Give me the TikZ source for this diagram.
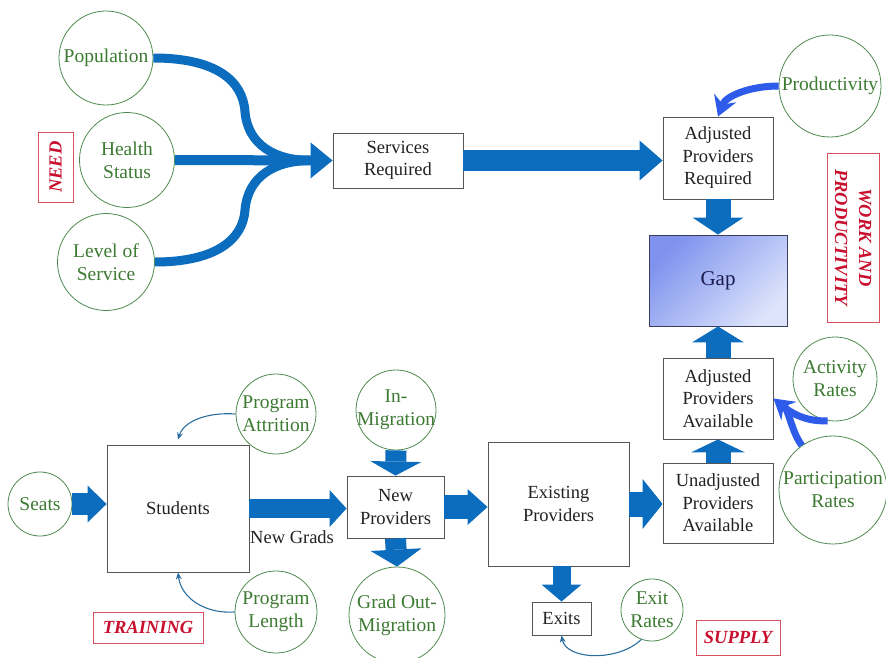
\documentclass[tikz,border=0pt]{standalone}
\usepackage{fontspec}
\setmainfont{Liberation Serif}
\usetikzlibrary{arrows.meta,shapes.geometric}
\definecolor{arrblue}{HTML}{0C6CBE}
\definecolor{lightarr}{HTML}{2F5BEA}
\definecolor{thinblue}{HTML}{2B6E9E}
\definecolor{circline}{HTML}{4E8A4E}
\definecolor{circtext}{HTML}{3C7A32}
\definecolor{boxgray}{HTML}{555555}
\definecolor{boxtext}{HTML}{222222}
\definecolor{labred}{HTML}{C8102E}
\definecolor{labline}{HTML}{D9505F}
\definecolor{gapA}{HTML}{7F93EE}
\definecolor{gapB}{HTML}{DCE3FB}
\definecolor{gapline}{HTML}{3A3F5A}
\definecolor{gaptext}{HTML}{1A1A50}
\tikzset{
  basefont/.style={font=\fontsize{18.5}{22.5}\selectfont},
  box/.style={basefont, draw=boxgray, fill=white, line width=0.9pt, align=center, text=boxtext, inner sep=2pt},
  circ/.style={circle, draw=circline, line width=0.8pt, minimum size=#1, inner sep=0pt},
  ctext/.style={font=\fontsize{19.5}{23}\selectfont, text=circtext, align=center, inner sep=0pt},
  lab/.style={draw=labline, line width=0.9pt, text=labred, font=\fontsize{18.5}{24}\selectfont\bfseries\itshape, align=center, inner sep=0pt},
  fat/.style n args={3}{draw=arrblue, line width=#1, -{Triangle[width=#2, length=#3, line width=0pt]}},
  curvebar/.style={draw=arrblue, line width=9pt},
  thinarrow/.style={draw=thinblue, line width=1.1pt, -{Stealth[length=7pt, width=6pt]}},
  lbarrow/.style={draw=lightarr, line width=7pt, -{Stealth[length=20pt, width=24pt, inset=7pt, line width=0pt]}},
  lbline/.style={draw=lightarr, line width=7pt}
}
\begin{document}
\begin{tikzpicture}[x=1pt,y=-1pt]
\useasboundingbox (0,0) rectangle (886,658);

% ---------- boxes ----------
\node[box, minimum width=130pt, minimum height=55pt] (sr) at (398,160.5) {Services\\Required};
\node[box, minimum width=110pt, minimum height=82pt] (apr) at (718,158) {Adjusted\\Providers\\Required};
\node[box, minimum width=138pt, minimum height=91pt, draw=gapline, top color=gapA, bottom color=gapB, shading angle=45, text=gaptext, font=\fontsize{21}{24}\selectfont] (gap) at (718,280.5) {Gap};
\node[box, minimum width=110pt, minimum height=81pt] (apa) at (718,398.5) {Adjusted\\Providers\\Available};
\node[box, minimum width=110pt, minimum height=80pt] (upa) at (718,503) {Unadjusted\\Providers\\Available};
\node[box, minimum width=141pt, minimum height=124pt] (ep) at (558.5,504) {Existing\\Providers};
\node[box, minimum width=59pt, minimum height=33pt] (exits) at (561.5,618.5) {Exits};
\node[box, minimum width=142pt, minimum height=127pt] (stu) at (178,508.5) {Students};
\node[box, minimum width=97pt, minimum height=62pt] (np) at (395.5,507) {New\\Providers};

% ---------- circles ----------
\node[circ=94pt, label={[ctext]center:Population}] (pop) at (106,58) {};
\node[circ=95pt, label={[ctext]center:Health\\Status}] (hs) at (127,160) {};
\node[circ=97pt, label={[ctext]center:Level of\\Service}] (los) at (106,262) {};
\node[circ=102pt, label={[ctext]center:Productivity}] (prod) at (830,86) {};
\node[circ=84pt, label={[ctext]center:Activity\\Rates}] (act) at (835,379) {};
\node[circ=108pt, label={[ctext]center:Participation\\Rates}] (part) at (833,490) {};
\node[circ=80pt, label={[ctext]center:Program\\Attrition}] (pa) at (276,414) {};
\node[circ=80pt, label={[ctext]center:In-\\Migration}] (inm) at (396,410) {};
\node[circ=82pt, label={[ctext]center:Program\\Length}] (pl) at (276,612) {};
\node[circ=96pt, label={[ctext]center:Grad Out-\\Migration}] (gom) at (397,615) {};
\node[circ=64pt, label={[ctext]center:Seats}] (seats) at (40,504) {};
\node[circ=62pt, label={[ctext]center:Exit\\Rates}] (er) at (652,610) {};

% ---------- section labels ----------
\node[lab, rotate=90, minimum width=70pt, minimum height=35pt] (need) at (55.5,167) {NEED};
\node[lab, rotate=-90, minimum width=169pt, minimum height=52pt] (wap) at (853,237.5) {WORK AND\\PRODUCTIVITY};
\node[lab, minimum width=110pt, minimum height=31pt] (train) at (148,627.5) {TRAINING};
\node[lab, minimum width=84pt, minimum height=35pt] (supply) at (738,637.5) {SUPPLY};
\node[basefont, text=boxtext, anchor=west, inner sep=0pt] (ng) at (250,537) {New Grads};

% ---------- need arrows ----------
\coordinate (m) at (311,160.5);
\draw[curvebar] (pop.east) .. controls (215,58) and (243,80) .. (245,112) .. controls (248,145) and (275,160.5) .. (m);
\draw[curvebar] (los.east) .. controls (215,262) and (243,240) .. (245,210) .. controls (248,176) and (275,160.5) .. (m);
\draw[fat={10pt}{36pt}{22pt}] (hs.east) -- (sr.west);

% ---------- main flow arrows ----------
\draw[fat={20pt}{40pt}{23pt}] (sr.east) -- (sr.east -| apr.west);
\draw[fat={25pt}{51pt}{17pt}] (apr.south) -- (gap.north);
\draw[fat={25pt}{52pt}{16pt}] (apa.north) -- (gap.south);
\draw[fat={25pt}{54pt}{13pt}] (upa.north) -- (apa.south);
\draw[fat={22pt}{37pt}{19pt}] (seats.east) -- (seats.east -| stu.west);
\draw[fat={19pt}{37pt}{17pt}] (stu.east) -- (stu.east -| np.west);
\draw[fat={21pt}{51pt}{14pt}] (inm.south) -- (np.north);
\draw[fat={21pt}{51pt}{17pt}] (np.south) -- (gom.north);
\draw[fat={24pt}{36pt}{20pt}] (np.east) -- (np.east -| ep.west);
\draw[fat={25pt}{50pt}{20pt}] (ep.east) -- (ep.east -| upa.west);
\draw[fat={18pt}{40pt}{17pt}] (exits.north |- ep.south) -- (exits.north);

% ---------- light blue adjustments ----------
\draw[lbarrow] (prod.west) .. controls (750,86) and (726,96) .. (apr.north);
\draw[lbline] (part.125) .. controls (792,432) and (790,415) .. (784,405);
\draw[lbarrow] (act.260) .. controls (805,422) and (790,412) .. (apa.east);

% ---------- thin feedback arrows ----------
\draw[thinarrow] (pa.west) .. controls (210,412) and (184,420) .. ([yshift=5pt]stu.north);
\draw[thinarrow] (pl.west) .. controls (205,614) and (181,598) .. (stu.south);
\draw[thinarrow] (er.250) .. controls (618,662) and (566,660) .. (exits.south);
\end{tikzpicture}
\end{document}
